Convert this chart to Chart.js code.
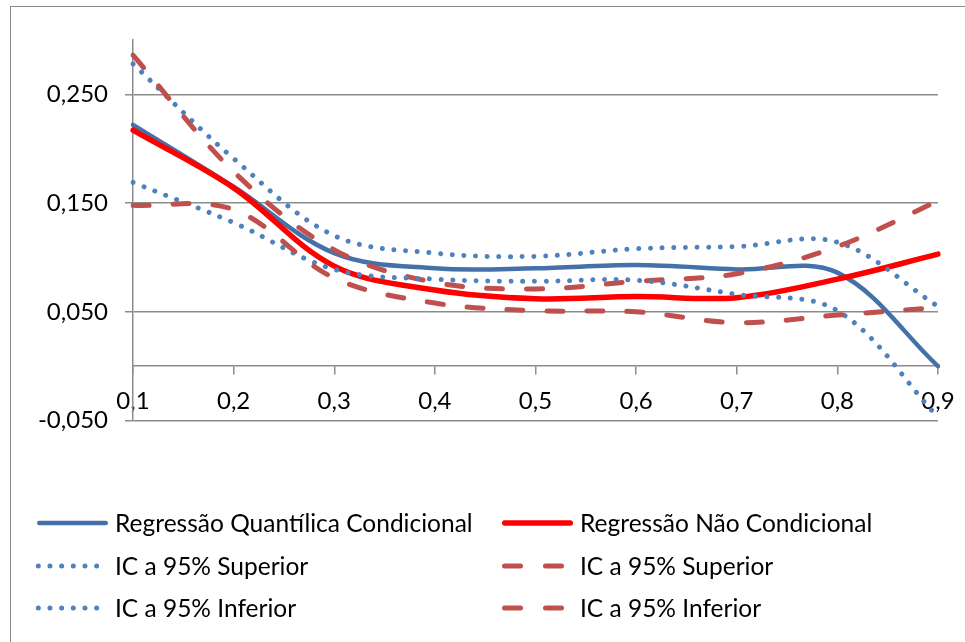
<!DOCTYPE html>
<html><head><meta charset="utf-8">
<script src="https://cdn.jsdelivr.net/npm/chart.js@4/dist/chart.umd.min.js"></script>
<style>
html,body{margin:0;padding:0;background:#fff;}
#wrap{position:relative;width:965px;height:642px;overflow:hidden;font-family:Lato, sans-serif;}
#frame{position:absolute;left:10px;top:6px;width:980px;height:660px;border-left:1.5px solid #8c8c8c;border-top:1.5px solid #8c8c8c;}
canvas{position:absolute;left:0;top:0;}
.lg{position:absolute;font-size:24.5px;line-height:1;color:#000;white-space:nowrap;transform:translateY(-50%);}
svg.ls{position:absolute;left:0;top:0;overflow:visible;}
</style></head>
<body><div id="wrap"><div id="frame"></div><canvas id="c" width="965" height="642"></canvas><svg class="ls" id="lsv" width="965" height="642"></svg><div id="legend"></div></div>
<script>
// Categories (quantis)
const quantis = ['0,1','0,2','0,3','0,4','0,5','0,6','0,7','0,8','0,9'];
// Y tick values
const yTicks = [-0.05, 0.05, 0.15, 0.25];
// Series
const regQuantilica   = [0.222, 0.165, 0.104, 0.090, 0.090, 0.093, 0.089, 0.086, 0.000];
const regNaoCond      = [0.217, 0.164, 0.092, 0.070, 0.062, 0.064, 0.063, 0.080, 0.103];
const icQuantSup      = [0.278, 0.191, 0.120, 0.104, 0.101, 0.108, 0.110, 0.114, 0.055];
const icQuantInf      = [0.169, 0.132, 0.089, 0.080, 0.078, 0.079, 0.066, 0.051, -0.047];
const icNaoCondSup    = [0.286, 0.179, 0.107, 0.077, 0.071, 0.078, 0.085, 0.110, 0.152];
const icNaoCondInf    = [0.148, 0.144, 0.081, 0.058, 0.051, 0.050, 0.040, 0.047, 0.054];

const seriesNames = ['Regressão Quantílica Condicional','Regressão Não Condicional','IC a 95% Superior','IC a 95% Superior','IC a 95% Inferior','IC a 95% Inferior'];

const BLUE_SOLID = '#4571A9', RED_SOLID = '#FF0000', BLUE_DOT = '#4F81BD', RED_DASH = '#C0504D';
const styles = [
  {color: BLUE_SOLID, width: 4.5, dash: []},
  {color: RED_SOLID, width: 5.5, dash: []},
  {color: BLUE_DOT, width: 5, dash: [0.01, 11.67]},
  {color: RED_DASH, width: 5, dash: [16, 24]},
  {color: BLUE_DOT, width: 5, dash: [0.01, 11.67]},
  {color: RED_DASH, width: 5, dash: [16, 24]}
];
const seriesData = [regQuantilica, regNaoCond, icQuantSup, icNaoCondSup, icQuantInf, icNaoCondInf];

Chart.defaults.font.family = 'Lato, sans-serif';
Chart.defaults.font.size = 24;
Chart.defaults.color = '#000';

const GRID = '#8c8c8c';
new Chart(document.getElementById('c'), {
  type: 'line',
  data: {
    labels: quantis,
    datasets: seriesData.map((d, i) => ({
      label: seriesNames[i], data: d,
      borderColor: styles[i].color, backgroundColor: styles[i].color,
      borderWidth: styles[i].width, borderDash: styles[i].dash,
      borderCapStyle: 'round', borderJoinStyle: 'round',
      pointRadius: 0, tension: 0.35, fill: false, order: 6 - i
    }))
  },
  options: {
    responsive: false, animation: false,
    layout: {padding: {left: 0, top: 40, right: 27, bottom: 221.5}},
    plugins: {legend: {display: false}, tooltip: {enabled: false}},
    scales: {
      x: {
        type: 'category', offset: false, position: {y: 0},
        grid: {drawOnChartArea: false, drawTicks: true, tickLength: 8, color: GRID, lineWidth: 1.5},
        border: {display: true, color: GRID, width: 1.5},
        ticks: {padding: 13, maxRotation: 0, autoSkip: false, color: '#000'},
        afterFit(s) { s.paddingLeft = 0; s.paddingRight = 0; }
      },
      y: {
        min: -0.05, max: 0.30,
        afterBuildTicks(s) { s.ticks = yTicks.map(v => ({value: v})); },
        afterFit(s) { s.width = 133; s.paddingTop = 0; s.paddingBottom = 0; },
        grid: {color: GRID, lineWidth: 1.5, tickLength: 8},
        border: {display: true, color: GRID, width: 1.5},
        ticks: {padding: 17, color: '#000', callback: v => v.toFixed(3).replace('.', ',')}
      }
    }
  }
});

// HTML legend (two columns, three rows)
const legendPos = [
  {lx: 37, tx: 115, y: 523}, {lx: 502, tx: 580, y: 523},
  {lx: 37, tx: 115, y: 566}, {lx: 502, tx: 580, y: 566},
  {lx: 37, tx: 115, y: 608}, {lx: 502, tx: 580, y: 608}
];
const svgNS = 'http://www.w3.org/2000/svg';
const lsv = document.getElementById('lsv');
const leg = document.getElementById('legend');
seriesNames.forEach((name, i) => {
  const p = legendPos[i], st = styles[i];
  const ln = document.createElementNS(svgNS, 'line');
  let x1 = p.lx + st.width / 2, x2 = p.lx + 71 - st.width / 2, dash = 'none';
  if (st.dash.length && st.dash[0] < 1) { x1 = p.lx + 1.3; x2 = p.lx + 60; dash = '0 11.67'; }
  else if (st.dash.length) { x1 = p.lx + 2.5; x2 = p.lx + 59.5; dash = '16 25'; }
  ln.setAttribute('x1', x1); ln.setAttribute('x2', x2);
  ln.setAttribute('y1', p.y); ln.setAttribute('y2', p.y);
  ln.setAttribute('stroke', st.color); ln.setAttribute('stroke-width', st.width);
  ln.setAttribute('stroke-linecap', 'round');
  if (dash !== 'none') ln.setAttribute('stroke-dasharray', dash);
  lsv.appendChild(ln);
  const sp = document.createElement('span');
  sp.className = 'lg'; sp.textContent = name;
  sp.style.left = p.tx + 'px'; sp.style.top = (p.y) + 'px';
  leg.appendChild(sp);
});
</script>
</body></html>
